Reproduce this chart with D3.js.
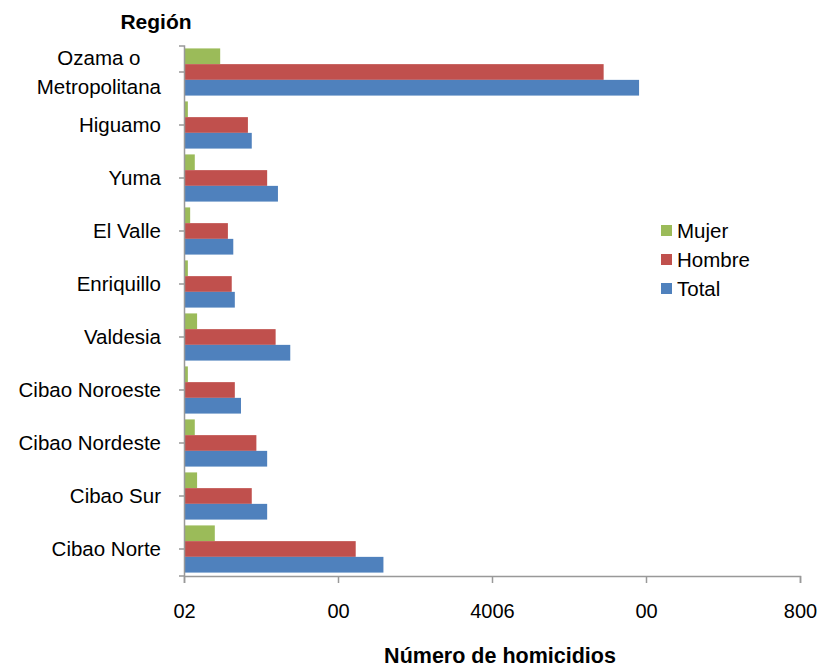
<!DOCTYPE html>
<html><head><meta charset="utf-8">
<script src="https://cdn.jsdelivr.net/npm/d3@7"></script>
<style>body{margin:0;background:#fff}svg{display:block}text{font-family:"Liberation Sans",Arial,sans-serif}</style>
</head><body><svg id="c" width="821" height="667"></svg>
<script>
const categories = ["Ozama o|Metropolitana","Higuamo","Yuma","El Valle","Enriquillo","Valdesia","Cibao Noroeste","Cibao Nordeste","Cibao Sur","Cibao Norte"];
const seriesNames = ["Mujer","Hombre","Total"];
const mujer  = [47, 5, 14, 8, 5, 17, 5, 14, 17, 40];
const hombre = [545, 83, 108, 57, 62, 119, 66, 94, 88, 223];
const total  = [591, 88, 122, 64, 66, 138, 74, 108, 108, 259];
const tickValues = [0, 200, 400, 600, 800];
const tickLabels = ["02", "00", "4006", "00", "800"];
const colors = ["#9BBB59", "#C0504D", "#4F81BD"];

const svg = d3.select("#c");
const x = d3.scaleLinear().domain([0, 800]).range([184, 800]);
const y = d3.scaleBand().domain(categories).range([45.5, 575.5]).paddingInner(0.11).paddingOuter(0.055);
const sub = d3.scaleBand().domain(seriesNames).range([0, y.bandwidth()]);
const vals = [mujer, hombre, total];

// bars
seriesNames.forEach((s, si) => {
  svg.append("g").selectAll("rect").data(categories).join("rect")
    .attr("x", x(0))
    .attr("y", c => y(c) + sub(s))
    .attr("width", (c, i) => x(vals[si][i]) - x(0))
    .attr("height", sub.bandwidth())
    .attr("fill", colors[si]);
});

// x axis
const xa = svg.append("g").attr("transform", "translate(0,576)")
  .call(d3.axisBottom(x).tickValues(tickValues).tickSize(7).tickFormat((d, i) => tickLabels[i]));
xa.select(".domain").attr("stroke", "#999").attr("stroke-width", 1.5);
xa.selectAll(".tick line").attr("stroke", "#999").attr("stroke-width", 1.5);
xa.selectAll(".tick text").attr("font-size", 20).attr("fill", "#000").attr("dy", 0).attr("y", 42)
  .attr("font-family", '"Liberation Sans",Arial,sans-serif');

// y axis
const ya = svg.append("g").attr("transform", "translate(184,0)")
  .call(d3.axisLeft(y).tickSize(5).tickFormat(""));
ya.select(".domain").attr("stroke", "#999").attr("stroke-width", 1.5);
ya.selectAll(".tick line").attr("stroke", "#999").attr("stroke-width", 1.5);

// category labels (multi-line labels are centred on their longest line)
const lab = svg.append("g");
categories.forEach(c => {
  const parts = c.split("|");
  const cy = y(c) + y.bandwidth() / 2;
  const t = lab.append("text").attr("font-size", 20.5).attr("fill", "#000");
  const spans = parts.map((p, i) =>
    t.append("tspan").attr("y", cy + 7 + (i - (parts.length - 1) / 2) * 29).text(p));
  if (parts.length === 1) {
    t.attr("text-anchor", "end"); spans[0].attr("x", 161);
  } else {
    const w = Math.max(...spans.map(s => s.node().getComputedTextLength()));
    t.attr("text-anchor", "middle"); spans.forEach(s => s.attr("x", 161 - w / 2));
  }
});

// titles
svg.append("text").attr("x", 156).attr("y", 29).attr("text-anchor", "middle")
  .attr("font-size", 21).attr("font-weight", "bold").text("Región");
svg.append("text").attr("x", 500).attr("y", 663).attr("text-anchor", "middle")
  .attr("font-size", 21.5).attr("font-weight", "bold").text("Número de homicidios");

// legend
const lg = svg.append("g");
seriesNames.forEach((s, i) => {
  lg.append("rect").attr("x", 661).attr("y", 225 + i * 29).attr("width", 11).attr("height", 11).attr("fill", colors[i]);
  lg.append("text").attr("x", 677).attr("y", 238 + i * 29).attr("font-size", 20.5).attr("fill", "#000").text(s);
});
</script></body></html>
